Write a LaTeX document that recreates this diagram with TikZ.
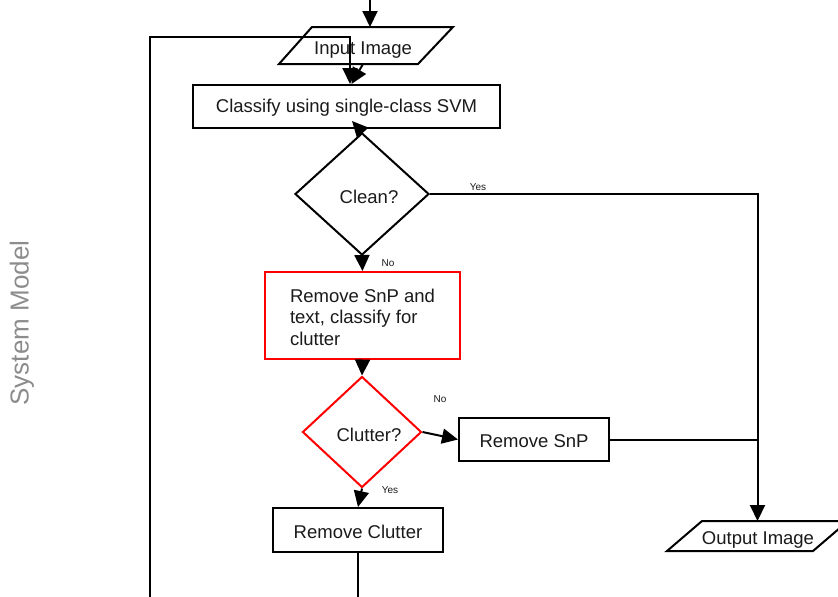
\documentclass[tikz,border=0pt]{standalone}
\usepackage{fontspec}
\setmainfont{Liberation Sans}
\usetikzlibrary{shapes.geometric,arrows.meta}
\definecolor{ink}{HTML}{1A1A1A}
\definecolor{sidegray}{HTML}{8C8C8C}
\tikzset{
  base/.style={line width=2pt, inner sep=0pt, text=ink,
    font=\fontsize{18.5}{21.5}\selectfont},
  proc/.style={base, draw=black, rectangle},
  redproc/.style={base, draw=red, rectangle},
  decision/.style={base, draw=black, diamond},
  reddecision/.style={base, draw=red, diamond},
  lbl/.style={inner sep=0pt, text=ink, font=\fontsize{10}{12}\selectfont},
  arr/.style={line width=2pt, -{Triangle[length=16pt,width=15pt]}},
  wire/.style={line width=2pt},
  slantline/.style={line width=2pt, line join=miter},
}
\begin{document}
\begin{tikzpicture}[x=1pt,y=-1pt]
\useasboundingbox (0,0) rectangle (838,597);

% side caption
\node[rotate=90, text=sidegray, font=\fontsize{26}{30}\selectfont] (cap) at (22,323) {System Model};

% input parallelogram
\node[base, minimum width=172pt, minimum height=35pt] (in) at (366,45.5) {};
\draw[slantline] ([xshift=33pt]in.north west) -- (in.north east)
  -- ([xshift=-35pt]in.south east) -- (in.south west) -- cycle;
\node[base] (intext) at (363,50) {Input Image};

% process and decision blocks
\node[proc, minimum width=307pt, minimum height=43pt] (cls) at (346.5,106.5) {};
\node[base] (clstext) at (346.5,108) {Classify using single-class SVM};
\node[decision, minimum width=134pt, minimum height=122pt] (clean) at (362,194) {};
\node[base] (cleantext) at (369,197) {Clean?};
\node[redproc, minimum width=195pt, minimum height=87pt] (red) at (362.5,315.5) {};
\node[base, align=left] (redtext) at (362.5,317) {Remove SnP and\\text, classify for\\clutter};
\node[reddecision, minimum width=119pt, minimum height=111pt] (clutter) at (362,432) {};
\node[base] (cluttertext) at (369,435) {Clutter?};
\node[proc, minimum width=150pt, minimum height=43pt] (snp) at (534,439.5) {};
\node[base] (snptext) at (534,441) {Remove SnP};
\node[proc, minimum width=170pt, minimum height=44pt] (rc) at (358,530) {};
\node[base] (rctext) at (358,531.5) {Remove Clutter};

% output parallelogram
\node[base, minimum width=179pt, minimum height=28pt] (out) at (757.5,536) {};
\draw[slantline] ([xshift=35pt]out.north west) -- (out.north east)
  -- ([xshift=-35pt]out.south east) -- (out.south west) -- cycle;
\node[base] (outtext) at (758,540) {Output Image};

% branch labels
\node[lbl] (lyes1) at (478,187) {Yes};
\node[lbl] (lno1) at (388,263) {No};
\node[lbl] (lno2) at (440,399) {No};
\node[lbl] (lyes2) at (390,490) {Yes};

% connectors
\coordinate (entry) at (370,0);
\draw[arr] (entry) -- (entry |- in.north);
\draw[arr] ([xshift=-3pt]in.south) -- ([xshift=5pt]cls.north);
\draw[arr] (rc.south) -- (358,620) -- (150,620) -- (150,37) -- (350,37) -- ([xshift=3.5pt]cls.north);
\draw[arr] (clean.north) -- ([xshift=5.5pt,yshift=8pt]cls.south);
\draw[arr] (clean.south) -- (red.north);
\draw[arr] (red.south) -- (clutter.north);
\draw[arr] (clean.east) -| (out.north);
\draw[wire] (snp.east) -- (out.north |- snp.east);
\draw[arr] (clutter.east) -- (snp.west);
\draw[arr] (clutter.south) -- (rc.north);
\end{tikzpicture}
\end{document}
